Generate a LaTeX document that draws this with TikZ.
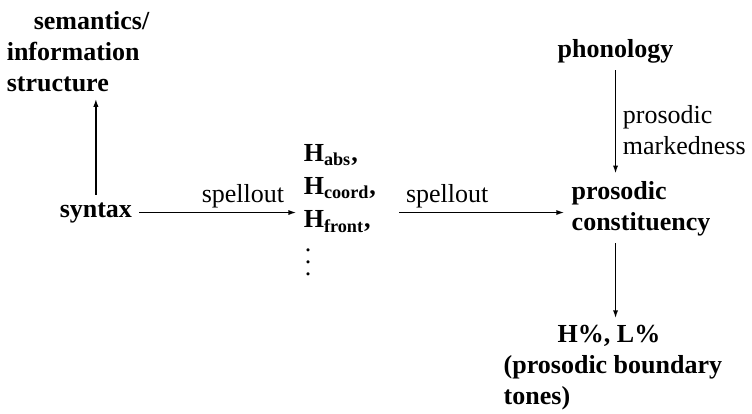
\documentclass[tikz,border=0pt]{standalone}
\usepackage{fontspec}
\setmainfont{Liberation Serif}
\usetikzlibrary{arrows.meta}
\newcommand\tallvdots{\vbox{\baselineskip6.2pt\lineskiplimit0pt\hbox{.}\hbox{.}\hbox{.}}}

\begin{document}
\begin{tikzpicture}
  [every node/.style={font=\fontsize{13}{15.5}\selectfont},
   blk/.style={font=\fontsize{13}{15.5}\selectfont\bfseries,align=left,anchor=base west},
   lbl/.style={above,inner sep=2pt},
   side/.style={right,align=left},
   every path/.style={line width=.75pt},
   >={Latex[length=4pt,width=2.6pt]}]
  \useasboundingbox (0,0) rectangle (13.215,7.258);
  % multi-line nodes sit on the baseline of their last line
  \node[blk] (sem) at (-0.011,5.658) {\hspace*{13.5pt}semantics/\\information\\structure};
  \node[blk] (syntax) at (0.920,3.444) {syntax};
  \node[blk,anchor=north west] (hblk) at (5.208,4.848)
    {H\textsubscript{abs},\\[1pt]H\textsubscript{coord},\\[1pt]H\textsubscript{front},\\[7pt]\hspace*{.5pt}\normalfont\tallvdots};
  \node[blk] (phon) at (9.671,6.256) {phonology};
  \node[blk] (pros) at (9.917,3.216) {prosodic\\constituency};
  \node[blk] (tones) at (8.722,0.141) {\hspace*{27pt}H\%, L\%\\(prosodic boundary\\tones)};
  \draw[->] (syntax) -- (syntax |- sem.south);
  \draw[->] (syntax) -- node[lbl,pos=.66] {spellout} (syntax -| hblk.west);
  \draw[->] ([xshift=8pt]hblk.east |- syntax) -- node[lbl,pos=.29] {spellout} (pros.west |- syntax);
  \draw[->] (phon) -- node[side,pos=.58] {prosodic\\markedness} (phon |- pros.north);
  \draw[->] (phon |- pros.south) -- (phon |- tones.north);
\end{tikzpicture}
\end{document}
